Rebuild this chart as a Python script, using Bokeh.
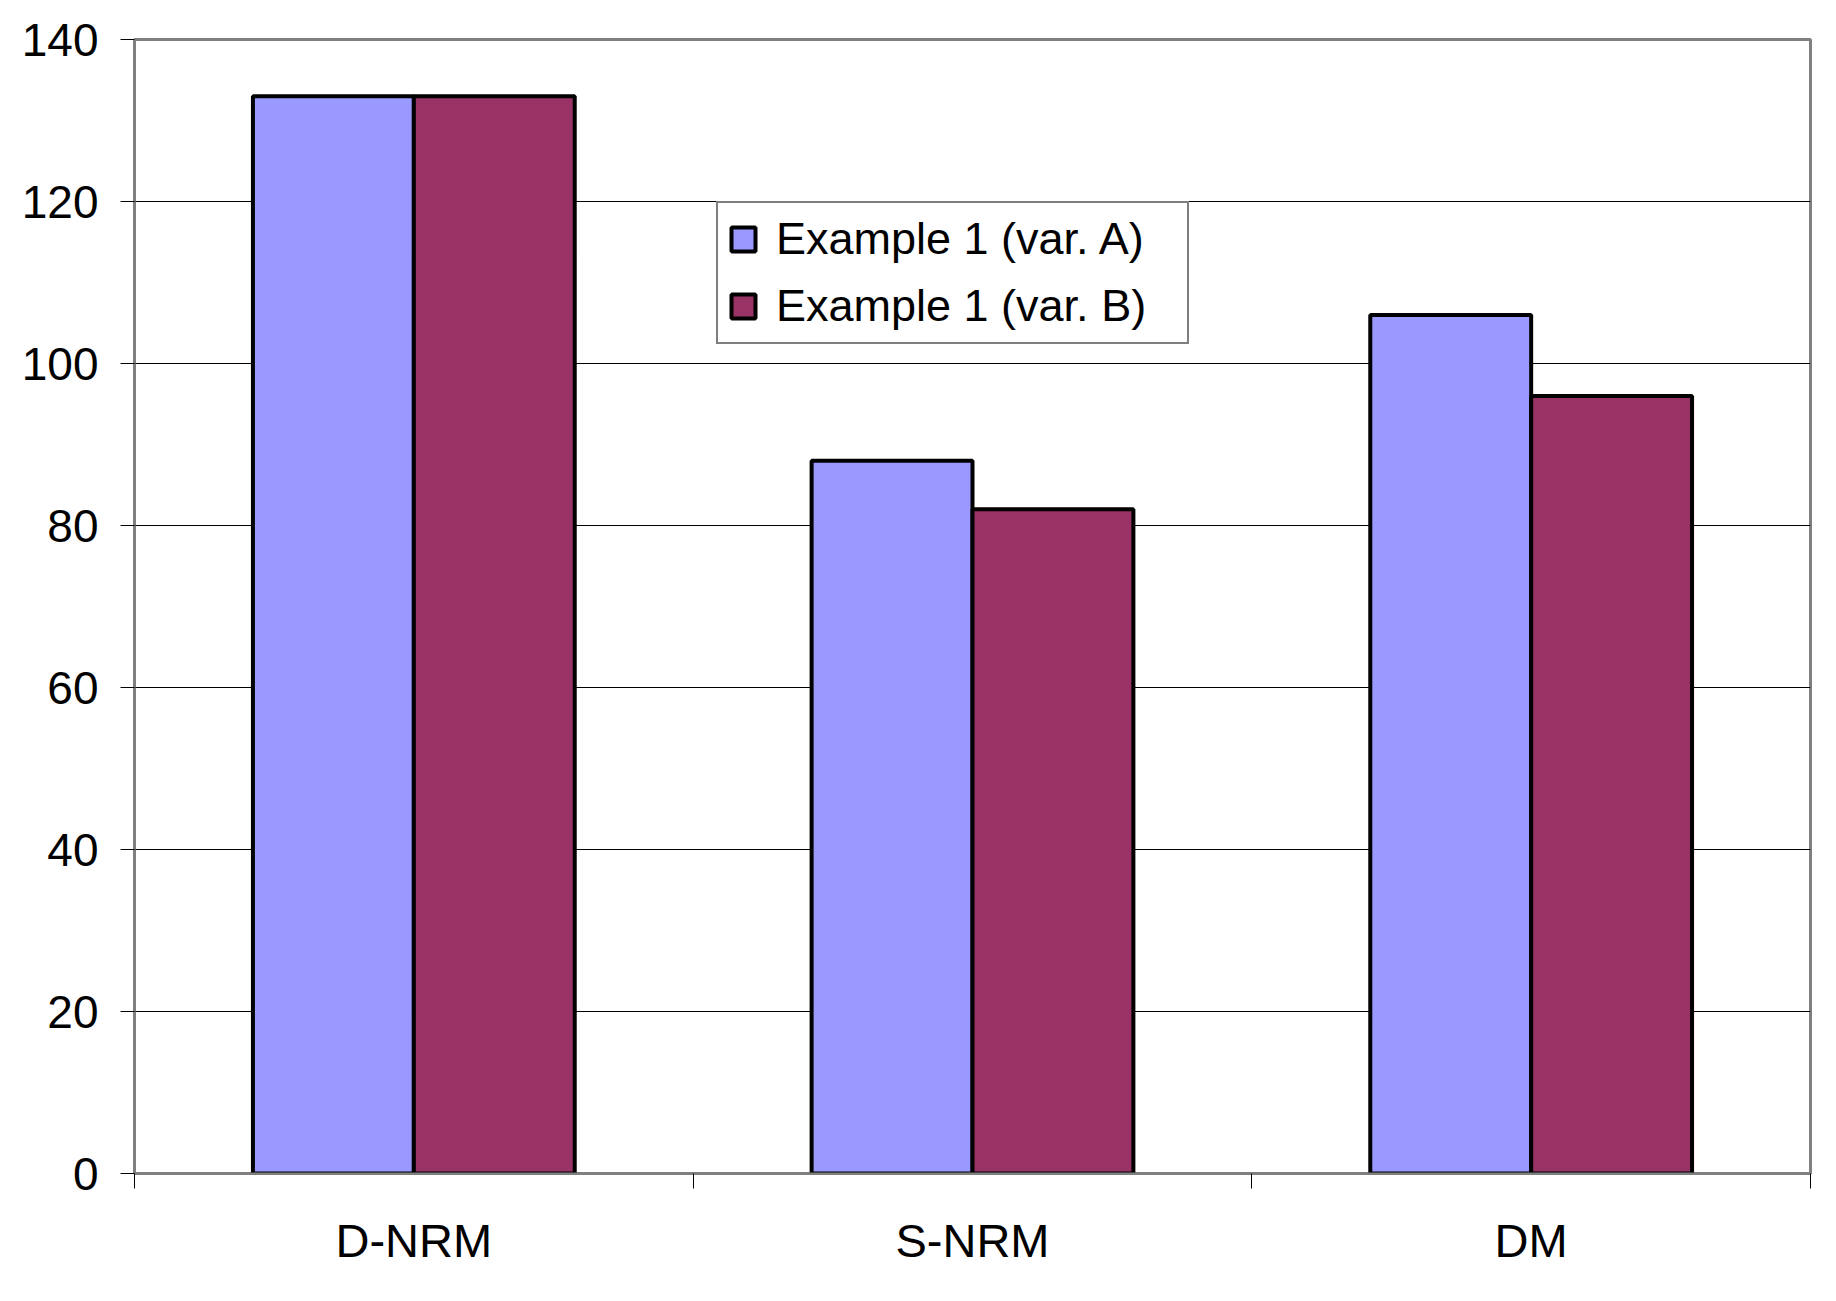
from bokeh.plotting import figure
from bokeh.models import (ColumnDataSource, Range1d, FixedTicker, Legend, LegendItem)
from bokeh.transform import dodge
from bokeh.embed import file_html
from bokeh.resources import INLINE

categories = ["D-NRM", "S-NRM", "DM"]
series_a = [133, 88, 106]
series_b = [133, 82, 96]
series_names = ["Example 1 (var. A)", "Example 1 (var. B)"]
y_ticks = [0, 20, 40, 60, 80, 100, 120, 140]

FONT = "Liberation Sans"
n = len(categories)
centers = [i + 0.5 for i in range(n)]
src = ColumnDataSource(dict(cat=categories, pos=centers, a=series_a, b=series_b))

p = figure(x_range=Range1d(0, n), y_range=Range1d(0, 140),
           width=1828, height=1295, output_backend="svg", toolbar_location=None,
           min_border_left=134, min_border_right=18, min_border_top=39,
           min_border_bottom=122)
p.background_fill_color = "white"
p.border_fill_color = "white"
p.outline_line_color = "#808080"
p.outline_line_width = 3

bw = 0.288
ra = p.vbar(x=dodge("pos", -bw / 2), top="a", width=bw, source=src,
            fill_color="#9999FF", line_color="black", line_width=4)
rb = p.vbar(x=dodge("pos", bw / 2), top="b", width=bw, source=src,
            fill_color="#993366", line_color="black", line_width=4)

# y axis
ya = p.yaxis[0]
ya.ticker = FixedTicker(ticks=y_ticks)
ya.axis_line_color = "#808080"
ya.axis_line_width = 2
ya.major_tick_line_color = "black"
ya.major_tick_out = 14
ya.major_tick_in = 0
ya.minor_tick_line_color = None
ya.major_label_text_font = FONT
ya.major_label_text_font_size = "46px"
ya.major_label_text_color = "black"
ya.major_label_standoff = 22

p.ygrid.ticker = FixedTicker(ticks=y_ticks)
p.ygrid.grid_line_color = "black"
p.ygrid.grid_line_width = 1
p.xgrid.grid_line_color = None

# x axis: labels at category centres, tick marks at category boundaries
xa = p.xaxis[0]
xa.ticker = FixedTicker(ticks=centers, minor_ticks=list(range(n + 1)))
xa.major_label_overrides = {c: name for c, name in zip(centers, categories)}
xa.axis_line_color = "#808080"
xa.axis_line_width = 2
xa.major_tick_line_color = None
xa.major_tick_out = 0
xa.major_tick_in = 0
xa.minor_tick_line_color = "black"
xa.minor_tick_line_width = 1
xa.minor_tick_out = 15
xa.minor_tick_in = 0
xa.major_label_text_font = FONT
xa.major_label_text_font_size = "47px"
xa.major_label_text_color = "black"
xa.major_label_standoff = 25

legend = Legend(items=[LegendItem(label=series_names[0], renderers=[ra]),
                       LegendItem(label=series_names[1], renderers=[rb])],
                location=(582, 829))
legend.label_text_font = FONT
legend.label_text_font_size = "45px"
legend.label_text_color = "black"
legend.glyph_width = 30
legend.glyph_height = 30
legend.label_standoff = 18
legend.label_width = 401
legend.padding = 10
legend.spacing = 15
legend.margin = 0
legend.border_line_color = "black"
legend.border_line_width = 2
legend.background_fill_color = "white"
legend.background_fill_alpha = 1
p.add_layout(legend, "center")

open("out.html", "w").write(file_html(p, INLINE))
